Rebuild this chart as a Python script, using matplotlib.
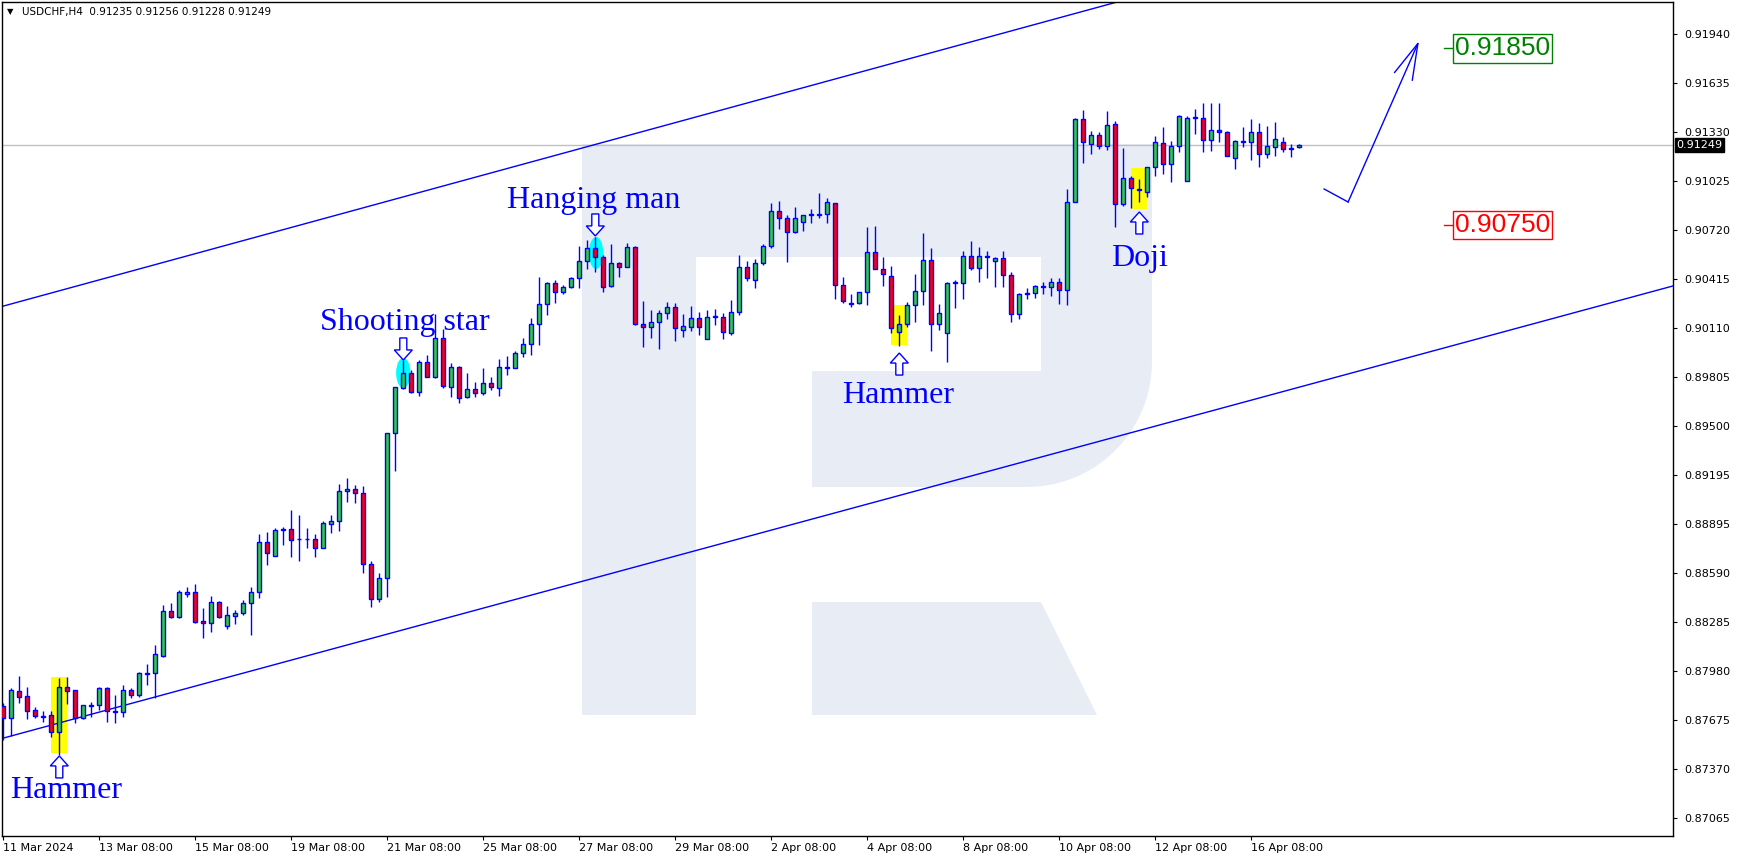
import matplotlib
matplotlib.use("Agg")
import matplotlib.pyplot as plt
import numpy as np
from matplotlib.patches import Rectangle, Ellipse, Polygon
from matplotlib.transforms import IdentityTransform, blended_transform_factory

# USDCHF H4 candles, one per bar index (8 px apart in the reference)
opens = [
    0.87761, 0.87687, 0.87854, 0.87823, 0.87736, 0.87699, 0.87705, 0.87599, 0.87879, 0.87861,
    0.87687, 0.87761, 0.87767, 0.87873, 0.87730, 0.87724, 0.87861, 0.87830, 0.87960, 0.87966,
    0.88072, 0.88352, 0.88314, 0.88457, 0.88470, 0.88290, 0.88277, 0.88408, 0.88258, 0.88321,
    0.88339, 0.88401, 0.88470, 0.88781, 0.88694, 0.88856, 0.88862, 0.88800, 0.88797, 0.88800,
    0.88744, 0.88893, 0.88911, 0.89098, 0.89110, 0.89085, 0.88644, 0.88426, 0.88557, 0.89459,
    0.89738, 0.89832, 0.89714, 0.89900, 0.89807, 0.90049, 0.89745, 0.89869, 0.89682, 0.89732,
    0.89707, 0.89770, 0.89738, 0.89869, 0.89863, 0.89956, 0.90012, 0.90136, 0.90261, 0.90391,
    0.90335, 0.90366, 0.90422, 0.90528, 0.90609, 0.90553, 0.90373, 0.90516, 0.90491, 0.90615,
    0.90136, 0.90118, 0.90149, 0.90205, 0.90242, 0.90099, 0.90118, 0.90174, 0.90043, 0.90186,
    0.90180, 0.90080, 0.90211, 0.90491, 0.90410, 0.90516, 0.90621, 0.90839, 0.90796, 0.90708,
    0.90771, 0.90814, 0.90814, 0.90820, 0.90889, 0.90379, 0.90267, 0.90267, 0.90335, 0.90584,
    0.90478, 0.90435, 0.90087, 0.90136, 0.90254, 0.90342, 0.90534, 0.90136, 0.90080, 0.90391,
    0.90391, 0.90559, 0.90485, 0.90559, 0.90528, 0.90547, 0.90440, 0.90200, 0.90320, 0.90330,
    0.90370, 0.90365, 0.90400, 0.90348, 0.90895, 0.91411, 0.91256, 0.91312, 0.91243, 0.91380,
    0.90882, 0.91044, 0.90970, 0.90957, 0.91113, 0.91262, 0.91131, 0.91243, 0.91026, 0.91420,
    0.91417, 0.91281, 0.91343, 0.91330, 0.91169, 0.91274, 0.91268, 0.91330, 0.91193, 0.91237,
    0.91268, 0.91224, 0.91235,
]
highs = [
    0.87780, 0.87873, 0.87948, 0.87879, 0.87755, 0.87730, 0.87730, 0.87935, 0.87941, 0.87861,
    0.87767, 0.87786, 0.87879, 0.87879, 0.87830, 0.87892, 0.87873, 0.87973, 0.88022, 0.88140,
    0.88389, 0.88401, 0.88482, 0.88501, 0.88520, 0.88370, 0.88445, 0.88414, 0.88383, 0.88358,
    0.88420, 0.88501, 0.88831, 0.88843, 0.88868, 0.88874, 0.88980, 0.88949, 0.88868, 0.88831,
    0.88911, 0.88949, 0.89141, 0.89179, 0.89135, 0.89129, 0.88663, 0.88588, 0.89459, 0.89745,
    0.89913, 0.89850, 0.89913, 0.89944, 0.90198, 0.90105, 0.89894, 0.89875, 0.89832, 0.89776,
    0.89863, 0.89807, 0.89919, 0.89937, 0.89969, 0.90049, 0.90174, 0.90429, 0.90398, 0.90410,
    0.90379, 0.90429, 0.90621, 0.90659, 0.90677, 0.90565, 0.90634, 0.90522, 0.90640, 0.90621,
    0.90279, 0.90223, 0.90223, 0.90273, 0.90267, 0.90198, 0.90248, 0.90211, 0.90223, 0.90230,
    0.90205, 0.90286, 0.90565, 0.90528, 0.90540, 0.90634, 0.90889, 0.90901, 0.90814, 0.90864,
    0.90814, 0.90851, 0.90951, 0.90920, 0.90889, 0.90429, 0.90323, 0.90335, 0.90740, 0.90746,
    0.90553, 0.90497, 0.90192, 0.90273, 0.90447, 0.90702, 0.90609, 0.90261, 0.90398, 0.90410,
    0.90590, 0.90653, 0.90615, 0.90590, 0.90553, 0.90590, 0.90460, 0.90330, 0.90360, 0.90380,
    0.90400, 0.90420, 0.90420, 0.90976, 0.91417, 0.91467, 0.91336, 0.91330, 0.91461, 0.91399,
    0.91231, 0.91057, 0.91038, 0.91113, 0.91305, 0.91361, 0.91274, 0.91436, 0.91430, 0.91474,
    0.91511, 0.91511, 0.91511, 0.91336, 0.91281, 0.91361, 0.91411, 0.91386, 0.91367, 0.91392,
    0.91299, 0.91256, 0.91256,
]
lows = [
    0.87550, 0.87575, 0.87780, 0.87680, 0.87687, 0.87662, 0.87568, 0.87456, 0.87773, 0.87655,
    0.87680, 0.87693, 0.87736, 0.87662, 0.87655, 0.87693, 0.87811, 0.87817, 0.87892, 0.87811,
    0.88066, 0.88308, 0.88308, 0.88439, 0.88277, 0.88184, 0.88221, 0.88308, 0.88240, 0.88271,
    0.88327, 0.88203, 0.88433, 0.88638, 0.88694, 0.88762, 0.88688, 0.88663, 0.88744, 0.88688,
    0.88744, 0.88837, 0.88849, 0.89030, 0.89023, 0.88588, 0.88377, 0.88408, 0.88439, 0.89222,
    0.89732, 0.89707, 0.89689, 0.89807, 0.89800, 0.89738, 0.89682, 0.89645, 0.89676, 0.89682,
    0.89695, 0.89726, 0.89689, 0.89819, 0.89863, 0.89931, 0.89944, 0.90006, 0.90192, 0.90267,
    0.90323, 0.90360, 0.90360, 0.90478, 0.90460, 0.90335, 0.90366, 0.90429, 0.90491, 0.90130,
    0.89993, 0.90049, 0.89981, 0.90167, 0.90031, 0.90055, 0.90093, 0.90068, 0.90043, 0.90130,
    0.90043, 0.90068, 0.90192, 0.90404, 0.90360, 0.90503, 0.90609, 0.90727, 0.90522, 0.90702,
    0.90715, 0.90764, 0.90796, 0.90764, 0.90292, 0.90267, 0.90242, 0.90261, 0.90254, 0.90478,
    0.90373, 0.90080, 0.90000, 0.90118, 0.90149, 0.90254, 0.89969, 0.90099, 0.89900, 0.90236,
    0.90292, 0.90472, 0.90398, 0.90422, 0.90366, 0.90366, 0.90150, 0.90170, 0.90290, 0.90300,
    0.90320, 0.90310, 0.90260, 0.90254, 0.90895, 0.91138, 0.91193, 0.91224, 0.91218, 0.90740,
    0.90870, 0.90858, 0.90895, 0.90926, 0.91057, 0.91069, 0.91019, 0.91206, 0.91026, 0.91318,
    0.91206, 0.91212, 0.91268, 0.91181, 0.91100, 0.91237, 0.91156, 0.91113, 0.91169, 0.91181,
    0.91206, 0.91175, 0.91228,
]
closes = [
    0.87687, 0.87861, 0.87817, 0.87730, 0.87699, 0.87696, 0.87599, 0.87879, 0.87854, 0.87687,
    0.87767, 0.87767, 0.87873, 0.87730, 0.87724, 0.87861, 0.87830, 0.87966, 0.87966, 0.88084,
    0.88352, 0.88314, 0.88470, 0.88470, 0.88283, 0.88277, 0.88408, 0.88314, 0.88327, 0.88339,
    0.88401, 0.88470, 0.88781, 0.88712, 0.88856, 0.88862, 0.88793, 0.88797, 0.88800, 0.88744,
    0.88899, 0.88911, 0.89098, 0.89110, 0.89085, 0.88644, 0.88426, 0.88557, 0.89459, 0.89745,
    0.89832, 0.89714, 0.89900, 0.89807, 0.90049, 0.89751, 0.89869, 0.89676, 0.89732, 0.89707,
    0.89770, 0.89745, 0.89869, 0.89863, 0.89956, 0.90012, 0.90136, 0.90261, 0.90391, 0.90335,
    0.90366, 0.90422, 0.90528, 0.90609, 0.90553, 0.90366, 0.90516, 0.90491, 0.90615, 0.90136,
    0.90118, 0.90149, 0.90205, 0.90242, 0.90111, 0.90124, 0.90174, 0.90118, 0.90180, 0.90180,
    0.90087, 0.90211, 0.90491, 0.90422, 0.90516, 0.90621, 0.90839, 0.90796, 0.90708, 0.90796,
    0.90814, 0.90820, 0.90820, 0.90895, 0.90379, 0.90279, 0.90261, 0.90335, 0.90584, 0.90478,
    0.90447, 0.90111, 0.90136, 0.90254, 0.90342, 0.90534, 0.90136, 0.90205, 0.90391, 0.90398,
    0.90559, 0.90485, 0.90559, 0.90553, 0.90547, 0.90440, 0.90200, 0.90320, 0.90330, 0.90370,
    0.90365, 0.90400, 0.90348, 0.90895, 0.91411, 0.91268, 0.91312, 0.91243, 0.91374, 0.90882,
    0.91044, 0.90982, 0.90976, 0.91113, 0.91268, 0.91131, 0.91243, 0.91430, 0.91417, 0.91424,
    0.91281, 0.91343, 0.91330, 0.91181, 0.91274, 0.91271, 0.91330, 0.91193, 0.91243, 0.91287,
    0.91224, 0.91230, 0.91249,
]

x_tick_bars = [0, 12, 24, 36, 48, 60, 72, 84, 96, 108, 120, 132, 144, 156]
x_tick_labels = ["11 Mar 2024", "13 Mar 08:00", "15 Mar 08:00", "19 Mar 08:00", "21 Mar 08:00",
                 "25 Mar 08:00", "27 Mar 08:00", "29 Mar 08:00", "2 Apr 08:00", "4 Apr 08:00",
                 "8 Apr 08:00", "10 Apr 08:00", "12 Apr 08:00", "16 Apr 08:00"]
y_ticks = [0.91940, 0.91635, 0.91330, 0.91025, 0.90720, 0.90415, 0.90110, 0.89805, 0.89500,
           0.89195, 0.88895, 0.88590, 0.88285, 0.87980, 0.87675, 0.87370, 0.87065]

last_price = 0.91249
target_up = 0.91850
target_down = 0.90750

# channel: two parallel lines given by (bar, price) end points
channel_lower = [(0.0, 0.87562), (208.7, 0.90373)]
channel_upper = [(0.0, 0.90248), (208.7, 0.93082)]

# forecast path (bar, price)
forecast_x = [165.1, 168.1, 176.96]
forecast_y = [0.90976, 0.90895, 0.91896]

# pattern labels: (text, bar, baseline price)
labels = [("Hammer", 0.84, 0.87189), ("Shooting star", 39.6, 0.90100),
          ("Hanging man", 62.96, 0.90858), ("Hammer", 104.8, 0.89646),
          ("Doji", 138.5, 0.90497)]
# hollow arrows: (bar, tip price, points up?)
arrows = [(7, 0.87451, True), (50, 0.89913, False), (74, 0.90684, False),
          (112, 0.89956, True), (142, 0.90833, True)]
# yellow boxes: (bar, low, high); cyan ellipses: (bar, centre price, height)
yellow_boxes = [(7, 0.87469, 0.87942), (112, 0.90007, 0.90254), (142, 0.90852, 0.91107)]
cyan_marks = [(50.0, 0.89832, 0.00187), (74.1, 0.90578, 0.00199)]

W, H = 1737, 861
fig = plt.figure(figsize=(W / 100, H / 100), dpi=100)
fig.patch.set_facecolor("white")
ax = fig.add_axes([2 / W, 25 / H, 1671 / W, 834 / H])
ax.set_facecolor("white")
ax.set_xlim(-0.1625, 208.71)
ax.set_ylim(0.869532, 0.921386)


def px(x, y):
    """reference pixel -> display coords"""
    return (x, H - y)


# watermark "R" (decoration, drawn in pixel space)
wm = "#e8edf5"
wm_kw = dict(transform=IdentityTransform(), fc=wm, ec="none", zorder=0.5)
r = 125
t = np.linspace(0, np.pi / 2, 20)
arc = [px(1152 - r + r * np.cos(a), 487 - r + r * np.sin(a)) for a in t]
outline = [px(582, 144), px(1152, 144)] + arc + [
    px(812, 487), px(812, 371), px(1041, 371), px(1041, 257),
    px(696, 257), px(696, 715), px(582, 715)]
ax.add_patch(Polygon(outline, **wm_kw))
ax.add_patch(Polygon([px(812, 602), px(1041, 602), px(1097, 715), px(812, 715)], **wm_kw))

# highlights
for b, lo, hi in yellow_boxes:
    ax.add_patch(Rectangle((b - 1, lo), 2, hi - lo, fc="#ffff00", ec="none", zorder=1.5))
for b, mid, h in cyan_marks:
    ax.add_patch(Ellipse((b, mid), 1.8, h, fc="#00ffff", ec="none", zorder=1.5))

# channel + current price line
for seg in (channel_lower, channel_upper):
    ax.plot([p[0] for p in seg], [p[1] for p in seg], color="#0000ff", lw=1, zorder=2)
ax.axhline(last_price, color="#c0c0c0", lw=1, zorder=1.8)

# labels under the candles
for text, b, y in labels:
    ax.text(b, y, text, family="Liberation Serif", fontsize=23, color="#0000ff",
            ha="left", va="baseline", zorder=2.5)

# candles
for i, (o, h, l, c) in enumerate(zip(opens, highs, lows, closes)):
    ax.plot([i, i], [l, h], color="#0000ff", lw=1, zorder=3, solid_capstyle="butt")
    fill = "#32cd32" if c >= o else "#ff0000"
    ax.add_patch(Rectangle((i - 0.27, min(o, c)), 0.54, abs(c - o), fc=fill,
                           ec="#0000ff", lw=1, zorder=4))

# hollow arrows, sized in pixels
for b, tip, up in arrows:
    tx, ty = ax.transData.transform((b, tip))
    s = -1 if up else 1
    shape = [(0, 0), (-9, 10), (-3.5, 10), (-3.5, 22), (3.5, 22), (3.5, 10), (9, 10)]
    ax.add_patch(Polygon([(tx + dx, ty + s * dy) for dx, dy in shape], closed=True,
                         transform=IdentityTransform(), fc="white", ec="#0000ff", lw=1, zorder=5))

# forecast arrow
ax.plot(forecast_x[:2], forecast_y[:2], color="#0000ff", lw=1, zorder=5)
ax.annotate("", xy=(forecast_x[2], forecast_y[2]), xytext=(forecast_x[1], forecast_y[1]),
            arrowprops=dict(arrowstyle="->,head_length=2.6,head_width=0.7", color="#0000ff",
                            lw=1, shrinkA=0, shrinkB=0), zorder=5)

# target tags
for val, col in ((target_up, "#008000"), (target_down, "#ff0000")):
    ax.plot([180.1, 181.3], [val, val], color=col, lw=1, zorder=5)
    ax.text(181.45, val, f"{val:.5f}", family="Liberation Sans", fontsize=19, color=col,
            ha="left", va="center", zorder=5,
            bbox=dict(boxstyle="square,pad=0.08", fc="white", ec=col, lw=1))

# axes styling
for sp in ax.spines.values():
    sp.set_color("black")
    sp.set_linewidth(1)
ax.yaxis.tick_right()
ax.set_yticks(y_ticks)
ax.set_yticklabels([f"{v:.5f}" for v in y_ticks])
ax.set_xticks(x_tick_bars)
ax.set_xticklabels(x_tick_labels, ha="left")
ax.tick_params(axis="y", direction="out", length=3, pad=5, labelsize=8, colors="black")
ax.tick_params(axis="x", direction="out", length=3, pad=2, labelsize=8, colors="black")

# current price tag on the price scale
bt = blended_transform_factory(ax.transAxes, ax.transData)
ax.text(1.0022, last_price, f"{last_price:.5f}", transform=bt, fontsize=8, color="white",
        ha="left", va="center", zorder=6, clip_on=False,
        bbox=dict(boxstyle="square,pad=0.15", fc="black", ec="black"))

# header
fig.text(7 / W, 1 - 12 / H, "\u25bc", fontsize=6, va="center", ha="left")
fig.text(22 / W, 1 - 12 / H, "USDCHF,H4  0.91235 0.91256 0.91228 0.91249",
         fontsize=7.5, va="center", ha="left")

fig.savefig("out.png", dpi=100)
